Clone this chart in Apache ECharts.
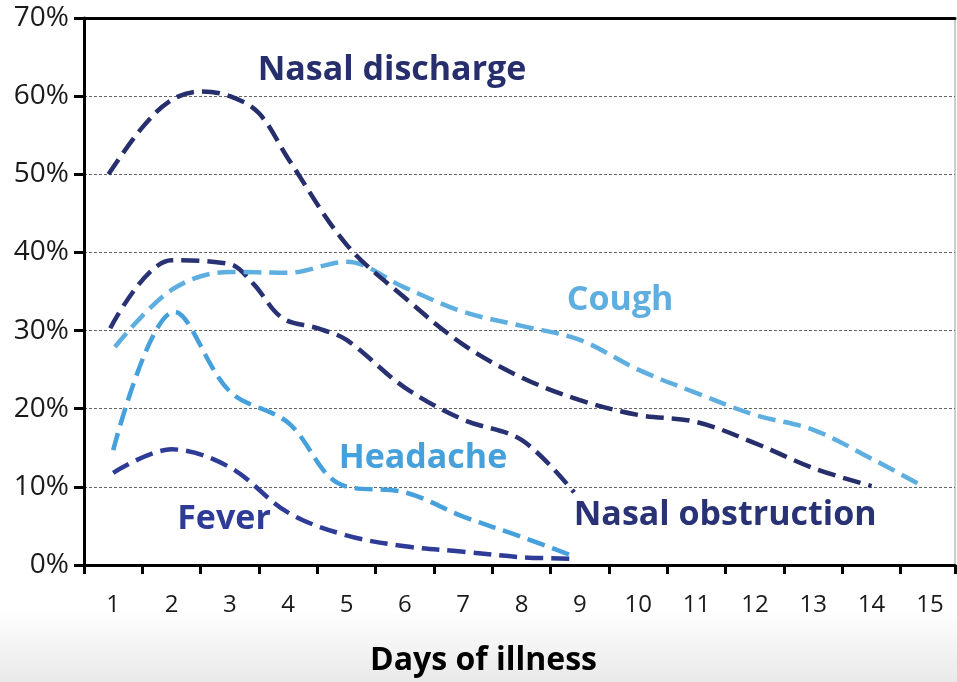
<!DOCTYPE html>
<html>
<head>
<meta charset="utf-8">
<script src="https://cdn.jsdelivr.net/npm/echarts@6/dist/echarts.min.js"></script>
<style>
html,body{margin:0;padding:0;}
body{width:957px;height:682px;background:linear-gradient(to bottom,#ffffff 0px,#ffffff 610px,#e9e9e9 682px);}
#c{width:957px;height:682px;}
</style>
</head>
<body>
<div id="c"></div>
<script>
// Day labels on the x axis
const dayLabels = [1,2,3,4,5,6,7,8,9,10,11,12,13,14,15];
// Tick marks sit on the boundaries between days
const dayTicks = [0.5,1.5,2.5,3.5,4.5,5.5,6.5,7.5,8.5,9.5,10.5,11.5,12.5,13.5,14.5,15.43];
// y tick labels (percent)
const yTicks = [0,10,20,30,40,50,60,70];

// Percent of patients with each symptom, by day of illness
const nasalDischargeDays = [0.92,1.5,2,2.5,3,3.5,4,5,6,7,8,9,10,11,12,13,14];
const nasalDischarge     = [50,56,59.5,60.6,60,57.8,52,41,34.2,28.2,24,21.1,19.2,18.3,15.6,12.4,10.1];
const nasalObstructionDays = [0.95,2,3,3.4,3.9,4.5,5,6,7,8,8.9];
const nasalObstruction     = [30.3,39,38.5,36,31.6,30.3,28.8,22.7,18.6,16,9.3];
const coughDays = [1.03,2,3,4,5,6,7,8,9,10,11,12,13,14,14.9];
const cough     = [27.9,35.2,37.5,37.4,38.8,35.5,32.4,30.6,28.8,25,22,19.2,17.3,13.6,10];
const headacheDays = [1,2.05,3,4,4.9,6,7,8,8.9];
const headache     = [14.7,32.4,22.2,18.2,10.3,9.3,6.2,3.6,1.1];
const feverDays = [1,2,3,4,5,6,7,8,8.9];
const fever     = [11.8,14.8,12.5,6.7,3.8,2.4,1.7,1.0,0.8];

function pairs(xs, ys){ return xs.map((x,i)=>[x, ys[i]]); }

const chart = echarts.init(document.getElementById('c'), null, {renderer:'canvas'});
const dash = [18,8];
function lineSeries(name, xs, ys, color, label, labelAt, labelSize){
  return {
    name: name, type: 'line', smooth: 0.35, symbol: 'none',
    data: pairs(xs, ys),
    lineStyle: {color: color, width: 4.5, type: dash, cap: 'butt'},
    z: 3,
    markPoint: {
      symbol: 'circle', symbolSize: 0, silent: true, animation: false,
      label: {show: true, position: 'inside', formatter: label, color: color,
              fontFamily: 'Open Sans', fontWeight: 'bold', fontSize: labelSize},
      data: [{coord: labelAt}]
    }
  };
}

chart.setOption({
  animation: false,
  backgroundColor: 'transparent',
  grid: {left: 84, right: 2, top: 18, bottom: 117, show: true, borderColor: '#9a9a9a', borderWidth: 1, backgroundColor: '#ffffff'},
  xAxis: [{
    type: 'value', min: 0.5, max: 15.43, position: 'bottom',
    axisLine: {show: true, onZero: false, lineStyle: {color: '#000', width: 3}},
    axisTick: {show: true, length: 9, customValues: dayTicks, lineStyle: {color: '#000', width: 3}},
    axisLabel: {show: true, customValues: dayLabels, margin: 28, color: '#1a1a1a', fontFamily: 'Open Sans', fontSize: 24},
    splitLine: {show: false},
    name: 'Days of illness', nameLocation: 'middle', nameGap: 80,
    nameTextStyle: {color: '#000', fontFamily: 'Open Sans', fontWeight: 'bold', fontSize: 32, padding: [0, 72, 0, 0]}
  },{
    type: 'value', min: 0.5, max: 15.43, position: 'top',
    axisLine: {show: true, onZero: false, lineStyle: {color: '#000', width: 3}},
    axisTick: {show: false}, axisLabel: {show: false}, splitLine: {show: false}
  }],
  yAxis: {
    type: 'value', min: 0, max: 70, interval: 10,
    axisLine: {show: true, lineStyle: {color: '#000', width: 3}},
    axisTick: {show: true, length: 10, lineStyle: {color: '#000', width: 3}},
    axisLabel: {formatter: '{value}%', margin: 15, color: '#1a1a1a', fontFamily: 'Open Sans', fontSize: 28},
    splitLine: {show: true, lineStyle: {color: '#666', width: 1, type: [3,2]}}
  },
  series: [
    lineSeries('Fever', feverDays, fever, '#2e3c98', 'Fever', [2.9, 5.8], 34),
    lineSeries('Headache', headacheDays, headache, '#45a0dc', 'Headache', [6.31, 13.7], 34),
    lineSeries('Nasal obstruction', nasalObstructionDays, nasalObstruction, '#283274', 'Nasal obstruction', [11.49, 6.4], 34),
    lineSeries('Cough', coughDays, cough, '#5eaee0', 'Cough', [9.69, 33.9], 34),
    lineSeries('Nasal discharge', nasalDischargeDays, nasalDischarge, '#262e6c', 'Nasal discharge', [5.78, 63.3], 34)
  ]
});
</script>
</body>
</html>
